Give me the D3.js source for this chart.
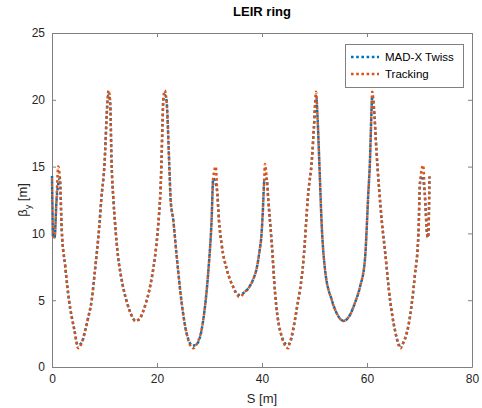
<!DOCTYPE html>
<html><head><meta charset="utf-8">
<script src="https://cdn.jsdelivr.net/npm/d3@7"></script>
<style>body{margin:0;background:#fff;} text{font-family:"Liberation Sans",Arial,Helvetica,sans-serif;}</style>
</head><body><div id="chart"></div>
<script>
const chartTitle = "LEIR ring";
const xLabel = "S [m]";
const seriesNames = ["MAD-X Twiss", "Tracking"];
const xTicks = [0, 20, 40, 60, 80];
const yTicks = [0, 5, 10, 15, 20, 25];

const sTrack = [0.0,0.08,0.18,0.5,0.85,1.2,1.5,1.85,2.5,3.24,4.25,5.0,5.65,6.3,6.9,7.56,8.2,9.0,9.4,9.97,10.6,10.75,11.05,11.37,11.7,12.0,12.6,13.1,13.7,14.3,14.9,15.5,15.9,16.3,16.7,17.3,17.9,18.5,19.1,19.6,20.1,20.4,20.7,20.85,21.05,21.2,21.45,21.8,22.35,22.6,23.1,23.7,24.7,25.65,26.9,27.55,28.8,29.8,30.4,30.7,31.2,31.45,31.8,32.3,33.3,34.5,35.7,36.8,37.6,38.35,39.0,39.5,39.9,40.2,40.4,40.57,40.9,41.2,41.85,42.5,43.4,45.0,45.3,46.6,47.9,48.8,49.5,49.9,50.3,50.6,50.9,51.4,52.0,53.3,54.4,55.5,56.76,57.7,58.67,59.6,60.25,60.57,60.8,61.0,61.3,61.8,62.8,63.4,64.4,65.3,66.4,66.9,68.2,69.1,69.8,70.1,70.7,71.0,71.5,71.65,71.9];
const betaTrack = [14.3,12.0,9.8,9.7,12.4,15.0,14.1,10.3,7.6,5.0,2.8,1.4,1.8,2.7,3.7,5.0,7.3,10.5,12.6,15.0,20.0,20.7,20.0,15.0,12.5,10.8,8.2,6.9,5.7,4.8,4.1,3.6,3.42,3.5,3.6,4.1,4.8,5.7,6.9,8.2,10.0,11.5,13.5,15.3,18.3,20.0,20.7,20.0,15.0,12.5,11.0,8.5,4.8,2.5,1.4,1.7,3.5,7.3,11.0,14.1,15.0,13.2,11.0,9.2,7.3,6.0,5.26,5.64,6.0,6.6,7.4,8.6,9.9,12.0,13.8,15.2,14.1,12.5,9.3,5.5,2.8,1.4,1.8,4.3,8.0,13.0,15.5,18.0,20.6,18.5,15.5,10.4,7.3,5.0,3.9,3.45,3.9,4.8,6.0,8.0,13.0,15.5,18.5,20.6,19.5,16.2,11.0,8.8,5.0,2.8,1.4,1.8,3.8,6.8,10.0,13.8,15.1,13.0,9.8,9.7,14.25];

const sTwiss = [0.0,0.08,0.18,0.5,0.85,1.5,1.85,2.5,3.24,4.25,4.9,5.65,6.3,6.9,7.56,8.2,9.0,9.4,9.97,10.6,10.75,11.05,11.37,11.7,12.0,12.6,13.1,13.7,14.3,14.9,15.5,15.9,16.3,16.7,17.3,17.9,18.5,19.1,19.6,20.1,20.4,20.7,20.85,21.05,21.2,21.45,21.8,22.35,22.6,23.1,23.7,24.7,25.65,26.8,27.55,28.8,29.8,30.4,30.7,31.45,31.8,32.3,33.3,34.5,35.4,36.8,37.6,38.35,39.0,39.5,39.9,40.2,40.4,40.9,41.2,41.85,42.5,43.4,44.85,45.3,46.6,47.9,48.8,49.5,49.9,50.3,50.6,50.9,51.4,52.0,53.3,54.4,55.5,56.76,57.7,58.67,59.6,60.25,60.57,60.8,61.0,61.3,61.8,62.8,63.4,64.4,65.3,66.3,66.9,68.2,69.1,69.8,70.1,70.5,71.0,71.5,71.65,71.9];
const betaTwiss = [14.3,12.0,9.8,9.7,12.4,14.1,10.3,7.6,5.0,2.8,1.65,1.8,2.7,3.7,5.0,7.3,10.5,12.6,15.0,20.0,20.35,20.0,15.0,12.5,10.8,8.2,6.9,5.7,4.8,4.1,3.6,3.45,3.5,3.6,4.1,4.8,5.7,6.9,8.2,10.0,11.5,13.5,15.3,18.3,20.0,20.35,20.0,15.0,12.5,11.0,8.5,4.8,2.5,1.6,1.7,3.5,7.3,11.0,14.1,13.2,11.0,9.2,7.3,6.0,5.4,5.64,6.0,6.6,7.4,8.6,9.9,12.0,13.8,14.1,12.5,9.3,5.5,2.8,1.65,1.8,4.3,8.0,13.0,15.5,18.0,20.3,18.5,15.5,10.4,7.3,5.0,3.9,3.45,3.9,4.8,6.0,8.0,13.0,15.5,18.5,20.3,19.5,16.2,11.0,8.8,5.0,2.8,1.6,1.8,3.8,6.8,10.0,13.8,14.3,13.0,9.8,9.7,14.25];

const W = 482, H = 408;
const m = {left: 52, right: 10, top: 33, bottom: 41};
const svg = d3.select("#chart").append("svg").attr("width", W).attr("height", H);
const x = d3.scaleLinear().domain([0, 80]).range([m.left, W - m.right]);
const y = d3.scaleLinear().domain([0, 25]).range([H - m.bottom, m.top]);
const axisCol = "#262626";

const gx = svg.append("g").attr("transform", `translate(0,${y(0)})`)
  .call(d3.axisBottom(x).tickValues(xTicks).tickSizeInner(-4).tickSizeOuter(0).tickPadding(7));
const gxt = svg.append("g").attr("transform", `translate(0,${y(25)})`)
  .call(d3.axisTop(x).tickValues(xTicks).tickSizeInner(-4).tickSizeOuter(0).tickFormat(""));
const gy = svg.append("g").attr("transform", `translate(${x(0)},0)`)
  .call(d3.axisLeft(y).tickValues(yTicks).tickSizeInner(-4).tickSizeOuter(0).tickPadding(7));
const gyr = svg.append("g").attr("transform", `translate(${x(80)},0)`)
  .call(d3.axisRight(y).tickValues(yTicks).tickSizeInner(-4).tickSizeOuter(0).tickFormat(""));
[gx, gxt, gy, gyr].forEach(g => {
  g.selectAll("path").attr("stroke", "#808080").attr("stroke-width", 1);
  g.selectAll("line").attr("stroke", "#808080").attr("stroke-width", 1);
  g.selectAll("text").attr("fill", axisCol).style("font-size", "12px")
    .style("font-family", "'Liberation Sans',Arial,sans-serif");
});

const line = (sArr, bArr) => d3.line().curve(d3.curveMonotoneX)
  .x((d, i) => x(sArr[i])).y((d, i) => y(bArr[i]))(bArr);

const cBlue = "#0072BD", cRed = "#D95319";
svg.append("path").attr("d", line(sTwiss, betaTwiss)).attr("fill", "none")
  .attr("stroke", cBlue).attr("stroke-width", 2.5).attr("stroke-dasharray", "2.6,2.6");
svg.append("path").attr("d", line(sTrack, betaTrack)).attr("fill", "none")
  .attr("stroke", cRed).attr("stroke-width", 2.5).attr("stroke-dasharray", "2.6,2.6")
  .attr("stroke-dashoffset", 2.6);

svg.append("text").attr("x", (x(0) + x(80)) / 2).attr("y", 16).attr("text-anchor", "middle")
  .style("font-weight", "bold").style("font-size", "13px").attr("fill", "#000").text(chartTitle);
svg.append("text").attr("x", (x(0) + x(80)) / 2).attr("y", 403).attr("text-anchor", "middle")
  .style("font-size", "13px").attr("fill", axisCol).text(xLabel);
const yl = svg.append("text").attr("transform", `translate(27,${(y(0) + y(25)) / 2}) rotate(-90)`)
  .attr("text-anchor", "middle").style("font-size", "13px").attr("fill", axisCol);
yl.append("tspan").text("β");
yl.append("tspan").attr("dy", 4).style("font-size", "9px").text("y");
yl.append("tspan").attr("dy", -4).text(" [m]");

const lg = svg.append("g");
lg.append("rect").attr("x", 345.5).attr("y", 44.5).attr("width", 118).attr("height", 43)
  .attr("fill", "#fff").attr("stroke", "#808080").attr("stroke-width", 1);
const colors = [cBlue, cRed];
seriesNames.forEach((n, i) => {
  const yy = 57 + i * 17;
  lg.append("line").attr("x1", 351).attr("x2", 379).attr("y1", yy).attr("y2", yy)
    .attr("stroke", colors[i]).attr("stroke-width", 2.5).attr("stroke-dasharray", "2.6,2.6");
  lg.append("text").attr("x", 385).attr("y", yy + 4).style("font-size", "11.5px")
    .attr("fill", "#000").text(n);
});
</script></body></html>
